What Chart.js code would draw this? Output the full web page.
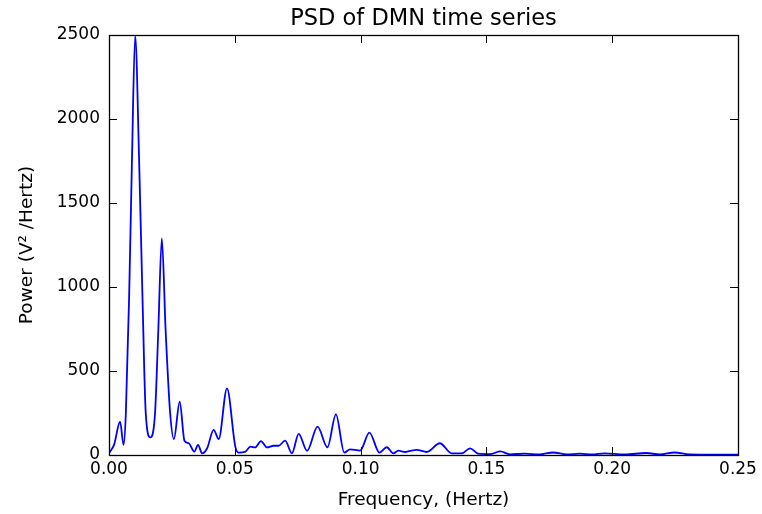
<!DOCTYPE html>
<html>
<head>
<meta charset="utf-8">
<script src="https://cdn.jsdelivr.net/npm/chart.js@4.4.1/dist/chart.umd.min.js"></script>
<style>
  html, body { margin: 0; padding: 0; background: #ffffff; }
  #wrap { width: 762px; height: 514px; }
</style>
</head>
<body>
<div id="wrap"><canvas id="psd" width="762" height="514"></canvas></div>
<script>
// Power spectral density of the DMN signal (frequency in Hz, power in V^2/Hz)
const freqs = [
  0.0000, 0.0020, 0.0044, 0.0058, 0.0067, 0.0080, 0.0091, 0.0104, 0.0120, 0.0133,
  0.0146, 0.0164, 0.0183, 0.0196, 0.0210, 0.0225, 0.0243, 0.0258, 0.0281, 0.0300,
  0.0317, 0.0339, 0.0354, 0.0370, 0.0390, 0.0416, 0.0436, 0.0469, 0.0502, 0.0515,
  0.0542, 0.0562, 0.0581, 0.0604, 0.0628, 0.0654, 0.0674, 0.0700, 0.0727, 0.0754,
  0.0787, 0.0829, 0.0868, 0.0902, 0.0935, 0.0958, 0.0998, 0.1035, 0.1075, 0.1104,
  0.1130, 0.1150, 0.1177, 0.1196, 0.1223, 0.1263, 0.1315, 0.1362, 0.1402, 0.1435,
  0.1467, 0.1514, 0.1556, 0.1593, 0.1653, 0.1710, 0.1765, 0.1820, 0.1871, 0.1920,
  0.1970, 0.2050, 0.2136, 0.2190, 0.2248, 0.2307, 0.2400, 0.2500
];
const power = [
    12,   60,  198,   60,  250,  942, 1736, 2495, 1736,  942,
   250,  105,  250,  744, 1290,  744,  250,   95,  317,   85,
    70,   20,   60,   10,   40,  150,   95,  397,   50,   14,
    20,   50,   45,   83,   45,   55,   55,   85,   10,  126,
    25,  169,   46,  242,   14,   34,   26,  133,   14,   46,
    10,   26,   18,   24,   30,   18,   70,   10,   10,   40,
     8,    5,   22,    4,    8,    3,   15,    3,    8,    3,
    10,    3,   12,    3,   15,    3,    2,    2
];
const xTicks = [0, 0.05, 0.10, 0.15, 0.20, 0.25];
const yTicks = [0, 500, 1000, 1500, 2000, 2500];
const chartTitle = 'PSD of DMN time series';

const FONT = "'DejaVu Sans', 'Liberation Sans', sans-serif";

// Frame around the plotting area, inward-pointing tick marks on all four sides,
// and the title centred over the plotting area
const frameTicks = {
  id: 'frameTicks',
  afterDatasetsDraw(chart) {
    const { ctx, chartArea: a, scales } = chart;
    const len = 8;
    ctx.save();
    ctx.strokeStyle = '#000000';
    ctx.lineWidth = 1;
    ctx.beginPath();
    xTicks.forEach(v => {
      const px = Math.round(scales.x.getPixelForValue(v)) + 0.5;
      ctx.moveTo(px, a.bottom); ctx.lineTo(px, a.bottom - len);
      ctx.moveTo(px, a.top);    ctx.lineTo(px, a.top + len);
    });
    yTicks.forEach(v => {
      const py = Math.round(scales.y.getPixelForValue(v)) + 0.5;
      ctx.moveTo(a.left, py);  ctx.lineTo(a.left + len, py);
      ctx.moveTo(a.right, py); ctx.lineTo(a.right - len, py);
    });
    ctx.stroke();
    ctx.lineWidth = 1.3;
    ctx.strokeRect(Math.round(a.left) + 0.5, Math.round(a.top) + 0.5,
                   Math.round(a.right - a.left), Math.round(a.bottom - a.top));

    ctx.fillStyle = '#000000';
    ctx.font = '22.5px ' + FONT;
    ctx.textAlign = 'center';
    ctx.textBaseline = 'alphabetic';
    ctx.fillText(chartTitle, (a.left + a.right) / 2, 25);
    ctx.restore();
  }
};

new Chart(document.getElementById('psd'), {
  type: 'line',
  data: {
    datasets: [{
      data: freqs.map((f, i) => ({ x: f, y: power[i] })),
      borderColor: '#0000ff',
      borderWidth: 1.8,
      pointRadius: 0,
      fill: false,
      cubicInterpolationMode: 'monotone'
    }]
  },
  options: {
    responsive: false,
    animation: false,
    devicePixelRatio: 1,
    layout: { padding: { left: 0, right: 24, top: 35, bottom: 0 } },
    plugins: {
      legend: { display: false },
      tooltip: { enabled: false },
      title: { display: false }
    },
    scales: {
      x: {
        type: 'linear',
        min: 0,
        max: 0.25,
        afterFit(scale) { scale.height = 59; },
        afterBuildTicks(scale) { scale.ticks = xTicks.map(v => ({ value: v })); },
        grid: { display: false, drawTicks: false },
        border: { display: false },
        ticks: {
          padding: 4,
          color: '#000000',
          font: { family: FONT, size: 17 },
          maxRotation: 0,
          callback: v => Number(v).toFixed(2)
        },
        title: {
          display: true,
          text: 'Frequency, (Hertz)',
          color: '#000000',
          font: { family: FONT, size: 18.5 },
          padding: { top: 0, bottom: 3 }
        }
      },
      y: {
        min: 0,
        max: 2500,
        afterFit(scale) { scale.width = 109; },
        afterBuildTicks(scale) { scale.ticks = yTicks.map(v => ({ value: v })); },
        grid: { display: false, drawTicks: false },
        border: { display: false },
        ticks: {
          padding: 9,
          color: '#000000',
          font: { family: FONT, size: 17 },
          callback: v => String(v)
        },
        title: {
          display: true,
          text: 'Power (V² /Hertz)',
          color: '#000000',
          font: { family: FONT, size: 18.5 },
          padding: { top: 16, bottom: 0 }
        }
      }
    }
  },
  plugins: [frameTicks]
});
</script>
</body>
</html>
